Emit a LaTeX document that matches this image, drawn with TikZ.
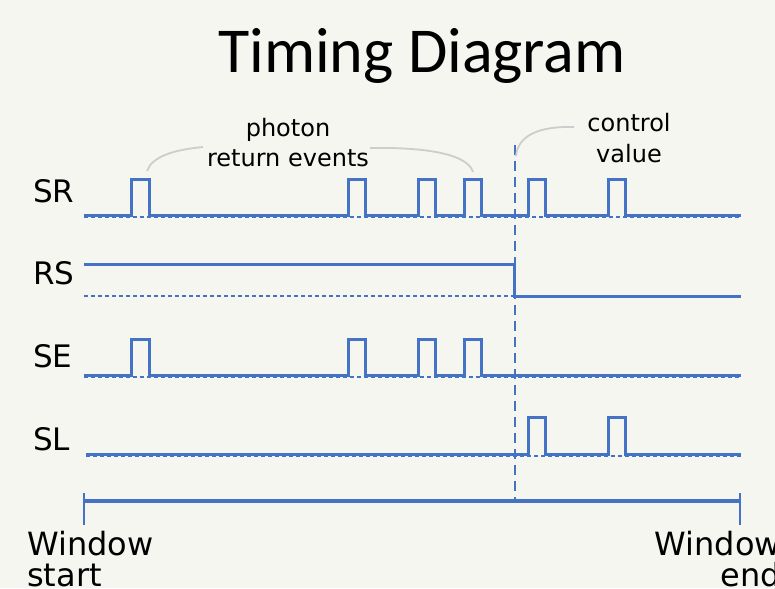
\documentclass[tikz,border=0pt]{standalone}
\usepackage{fontspec}
\setmainfont{DejaVu Sans}
\newfontfamily\titlefont{Carlito}
\definecolor{bgc}{RGB}{244,246,239}
\definecolor{sig}{RGB}{68,114,196}
\definecolor{annc}{RGB}{205,205,205}
\begin{document}
\begin{tikzpicture}[x=1pt,y=-1pt,
  sigline/.style={draw=sig,line width=3pt,line join=miter},
  refline/.style={draw=sig,line width=1.2pt,dash pattern=on 4pt off 3pt},
  lbl/.style={font=\fontsize{31}{36}\selectfont,anchor=west,inner sep=0pt},
  ann/.style={font=\fontsize{24}{30}\selectfont,align=center,inner sep=0pt},
  annline/.style={draw=annc,line width=1.8pt},
  winlbl/.style={font=\fontsize{32}{30.5}\selectfont,inner sep=0pt}]
\fill[bgc] (0,0) rectangle (775,588);
\useasboundingbox (0,0) rectangle (775,588);

% title
\node[font=\titlefont\fontsize{64}{70}\selectfont,anchor=base,inner sep=0pt] (title) at (422,73) {Timing Diagram};

% labels
\node[lbl] (sr) at (33,191) {SR};
\node[lbl] (rs) at (33,273) {RS};
\node[lbl] (se) at (33,356) {SE};
\node[lbl] (sl) at (33,439) {SL};

% reference dashed lines
\draw[refline] (84,217) -- (741,217);
\draw[refline] (84,296) -- (513,296);
\draw[refline] (84,377) -- (741,377);
\draw[refline] (86,456) -- (741,456);

% SR
\draw[sigline] (84,215) \foreach \a/\b in {131/149,348/365,418/435,464/481,528/545,608/625}{ -- (\a,215) -- (\a,179) -- (\b,179) -- (\b,215)} -- (741,215);
% RS
\draw[sigline] (84,264) -- (514,264) -- (514,296) -- (741,296);
% SE
\draw[sigline] (84,375) \foreach \a/\b in {131/149,348/365,418/435,464/481}{ -- (\a,375) -- (\a,339) -- (\b,339) -- (\b,375)} -- (741,375);
% SL
\draw[sigline] (86,454) \foreach \a/\b in {528/545,608/625}{ -- (\a,454) -- (\a,417) -- (\b,417) -- (\b,454)} -- (741,454);

% control value vertical
\coordinate (vtop) at (515,145);
\coordinate (vbot) at (515,499);
\draw[sig,line width=2pt,dash pattern=on 10pt off 6pt] (vtop) -- (vbot);

% window bar
\coordinate (ws) at (84,501);
\coordinate (we) at (740,501);
\draw[sig,line width=4pt] (ws) -- (we);
\draw[sig,line width=2pt] (84,493) -- (84,525);
\draw[sig,line width=2pt] (740,493) -- (740,525);

% annotations
\node[ann,anchor=base] (pre) at (288,167) {photon\\return events};
\node[ann,anchor=base] (cv) at (629,162) {control\\value};
\draw[annline] (203,147) .. controls (172,150) and (152,157) .. (147,171);
\draw[annline] (370,148) .. controls (430,147) and (468,155) .. (473,172);
\draw[annline] (574,127) .. controls (540,126) and (518,135) .. (516,156);

% window labels
\node[winlbl,anchor=base west,align=left] (wst) at (27,586) {Window\\start};
\node[winlbl,anchor=base east,align=right] (wen) at (781,586) {Window\\end};
\end{tikzpicture}
\end{document}
